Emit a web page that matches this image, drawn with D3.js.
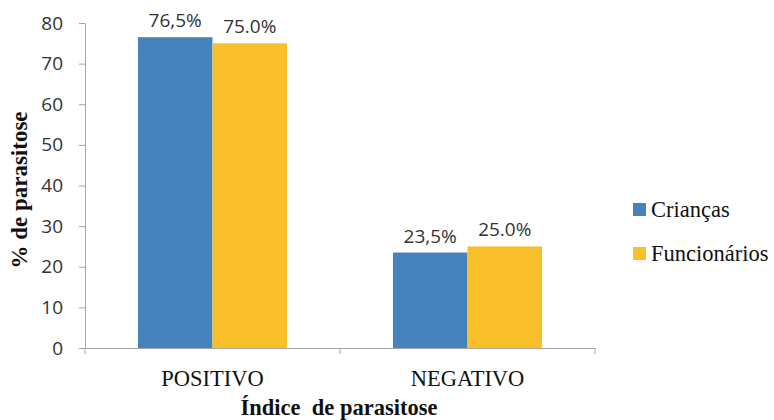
<!DOCTYPE html>
<html>
<head>
<meta charset="utf-8">
<script src="https://cdn.jsdelivr.net/npm/d3@7"></script>
<style>
  html, body { margin: 0; padding: 0; background: #fff; }
  svg { display: block; }
</style>
</head>
<body>
<svg id="chart" width="774" height="420"></svg>
<script>
// Parasitosis index by group
const categories = ["POSITIVO", "NEGATIVO"];
const seriesNames = ["Crianças", "Funcionários"];
const criancas = [76.5, 23.5];
const funcionarios = [75.0, 25.0];
const criancasLabels = ["76,5%", "23,5%"];
const funcionariosLabels = ["75.0%", "25.0%"];
const yTicks = [0, 10, 20, 30, 40, 50, 60, 70, 80];
const colors = ["#4683bd", "#f9c02c"];

const series = [
  { name: seriesNames[0], values: criancas, labels: criancasLabels, color: colors[0] },
  { name: seriesNames[1], values: funcionarios, labels: funcionariosLabels, color: colors[1] }
];

const svg = d3.select("#chart");
const plot = { left: 85, right: 595, top: 23, bottom: 348 };

const x = d3.scaleBand().domain(categories).range([plot.left, plot.right]).paddingInner(0).paddingOuter(0);
const x1 = d3.scaleBand().domain(seriesNames).range([0, x.bandwidth()]).paddingInner(0).paddingOuter(0.71);
const y = d3.scaleLinear().domain([0, 80]).range([plot.bottom, plot.top]);

const sans = "'Open Sans', 'DejaVu Sans', sans-serif";
const serif = "'Liberation Serif', 'Times New Roman', serif";

// Y axis
const yAxis = svg.append("g")
  .attr("transform", `translate(${plot.left},0)`)
  .call(d3.axisLeft(y).tickValues(yTicks).tickSize(6).tickPadding(16));
yAxis.select(".domain").attr("stroke", "#a6a6a6");
yAxis.selectAll(".tick line").attr("stroke", "#a6a6a6");
yAxis.selectAll(".tick text")
  .attr("font-family", sans).attr("font-size", 19).attr("fill", "#333");

// X axis
const xAxis = svg.append("g")
  .attr("transform", `translate(0,${plot.bottom})`)
  .call(d3.axisBottom(x).tickSize(0).tickPadding(22));
xAxis.select(".domain").attr("stroke", "#a6a6a6");
xAxis.selectAll(".tick text")
  .attr("font-family", serif).attr("font-size", 22.5).attr("fill", "#111");
// boundary tick marks between categories
const bounds = [plot.left, x(categories[1]), plot.right];
xAxis.selectAll(".bound").data(bounds).enter().append("line")
  .attr("x1", d => d).attr("x2", d => d)
  .attr("y1", 0).attr("y2", 6)
  .attr("stroke", "#a6a6a6");

// Bars
const groups = svg.append("g").selectAll("g").data(series).enter().append("g")
  .attr("fill", d => d.color);
groups.selectAll("rect")
  .data(s => s.values.map((v, i) => ({ v, cat: categories[i], name: s.name })))
  .enter().append("rect")
  .attr("x", d => x(d.cat) + x1(d.name))
  .attr("width", x1.bandwidth())
  .attr("y", d => y(d.v))
  .attr("height", d => y(0) - y(d.v));

// Value labels
groups.selectAll("text")
  .data(s => s.values.map((v, i) => ({ v, cat: categories[i], name: s.name, label: s.labels[i] })))
  .enter().append("text")
  .attr("x", d => x(d.cat) + x1(d.name) + x1.bandwidth() / 2)
  .attr("y", d => y(d.v) - 10)
  .attr("text-anchor", "middle")
  .attr("font-family", sans).attr("font-size", 19).attr("fill", "#333")
  .text(d => d.label);

// Axis titles
svg.append("text")
  .attr("x", 339).attr("y", 415)
  .attr("text-anchor", "middle")
  .attr("font-family", serif).attr("font-size", 22.5).attr("font-weight", "bold").attr("fill", "#111")
  .attr("xml:space", "preserve")
  .text("Índice  de parasitose");

svg.append("text")
  .attr("transform", "translate(27,190) rotate(-90)")
  .attr("text-anchor", "middle")
  .attr("font-family", serif).attr("font-size", 23).attr("font-weight", "bold").attr("fill", "#111")
  .text("% de parasitose");

// Legend
const legend = svg.append("g").selectAll("g").data(series).enter().append("g")
  .attr("transform", (d, i) => `translate(633,${203 + i * 44})`);
legend.append("rect").attr("width", 13).attr("height", 13).attr("fill", d => d.color);
legend.append("text")
  .attr("x", 18).attr("y", 14)
  .attr("font-family", serif).attr("font-size", 22.5).attr("fill", "#111")
  .text(d => d.name);
</script>
</body>
</html>
